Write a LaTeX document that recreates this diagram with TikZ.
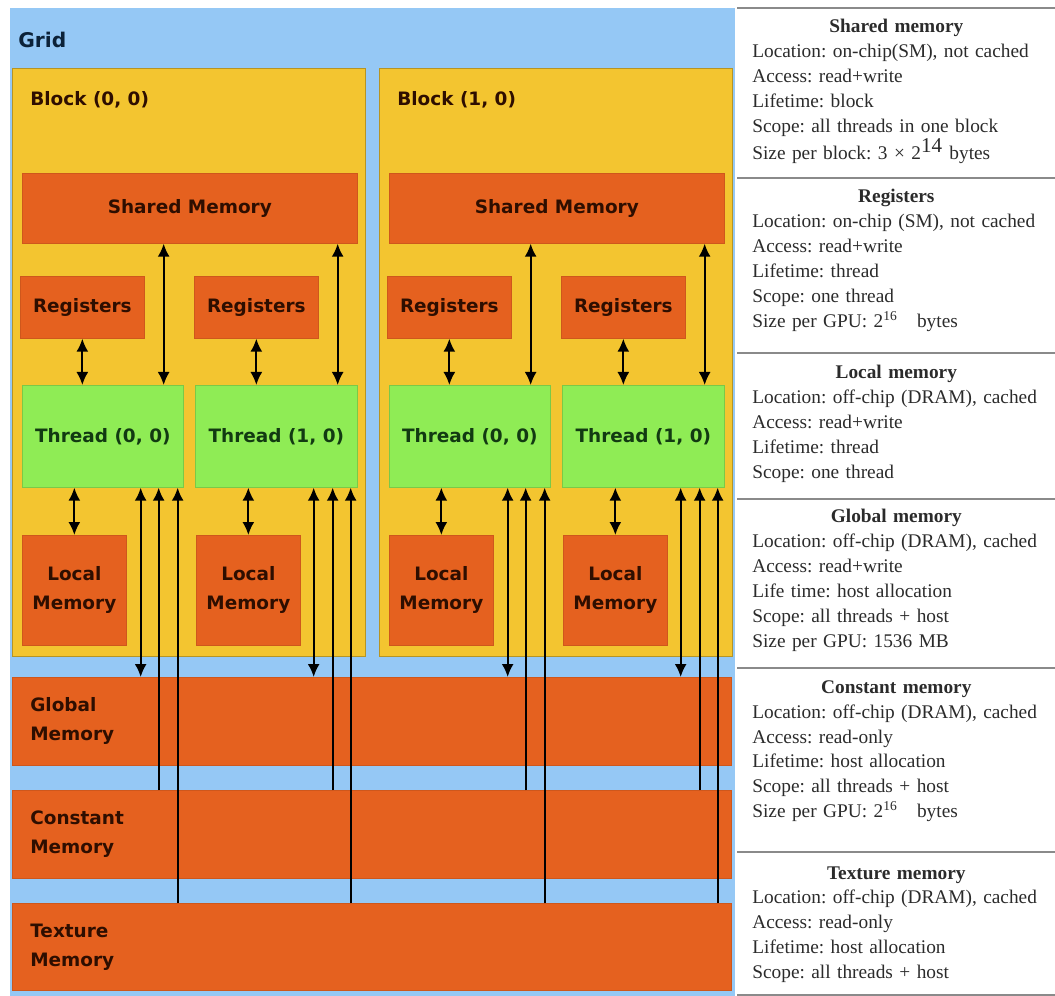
\documentclass[tikz,border=0pt]{standalone}
\usepackage{fontspec}
\setmainfont{Liberation Serif}
\setsansfont{DejaVu Sans}
\usetikzlibrary{arrows.meta,positioning,calc}
\frenchspacing
\definecolor{gridblue}{HTML}{95C8F5}
\definecolor{blockyellow}{HTML}{F3C530}
\definecolor{memorange}{HTML}{E5611F}
\definecolor{threadgreen}{HTML}{8FEC55}
\definecolor{memtext}{HTML}{2E0E00}
\definecolor{threadtext}{HTML}{123A12}
\definecolor{gridtext}{HTML}{0C2238}
\definecolor{infotext}{HTML}{2B2B2B}
\definecolor{rulegray}{HTML}{8A8A8A}
\tikzset{
  boxfont/.style={font=\sffamily\bfseries\fontsize{10.5}{16.5}\selectfont},
  memory/.style={boxfont, draw=memorange!90!black, fill=memorange, text=memtext, inner sep=0pt, anchor=north west, align=center},
  regbox/.style={memory, minimum width=2.48cm, minimum height=1.24cm},
  localbox/.style={memory, minimum width=2.08cm, minimum height=2.2cm},
  bigmem/.style={memory, text width=13.66cm, inner xsep=0.36cm, align=left, minimum height=1.76cm},
  thread/.style={boxfont, draw=threadgreen!85!black, fill=threadgreen, text=threadtext, inner sep=0pt, anchor=north west, minimum height=2.04cm},
  block/.style={draw=blockyellow!75!black, fill=blockyellow, inner sep=0pt, anchor=north west, minimum width=7.06cm, minimum height=11.76cm},
  blocklabel/.style={boxfont, text=memtext, anchor=west, inner sep=0pt},
  link/.style={draw=black, line width=1.1pt, {Latex[length=2.6mm,width=2.4mm]}-{Latex[length=2.6mm,width=2.4mm]}},
  feed/.style={draw=black, line width=1.1pt, -{Latex[length=2.6mm,width=2.4mm]}},
  info/.style={anchor=north west, text width=5.76cm, align=left, inner sep=0pt, text=infotext, font=\fontsize{11}{14.2}\selectfont},
  rule/.style={draw=rulegray, line width=0.6pt}
}
\newcommand{\infohead}[1]{\makebox[5.76cm]{\textbf{#1}}}

\begin{document}
\begin{tikzpicture}[x=0.02cm, y=-0.02cm]
  \useasboundingbox (0,0) rectangle (1055,996);

  % the grid
  \node[fill=gridblue, inner sep=0pt, anchor=north west, minimum width=14.5cm, minimum height=19.76cm] (grid) at (10,8) {};
  \node[boxfont, text=gridtext, anchor=west, inner sep=0pt, font=\sffamily\bfseries\fontsize{11.5}{14}\selectfont] (gridlbl) at (18,40) {Grid};

  % block (0, 0)
  \node[block] (blk0) at (12,68) {};
  \node[blocklabel] (blk0lbl) at (30,100) {Block (0, 0)};
  \node[memory, minimum width=6.7cm, minimum height=1.4cm] (sm0) at (22,173) {Shared Memory};
  \node[regbox] (reg00) at (20,276) {Registers};
  \node[regbox] (reg01) at (194,276) {Registers};
  \node[thread, minimum width=3.22cm] (thr00) at (22,385) {Thread (0, 0)};
  \node[thread, minimum width=3.24cm] (thr01) at (195,385) {Thread (1, 0)};
  \node[localbox] (loc00) at (22,535) {Local\\Memory};
  \node[localbox] (loc01) at (196,535) {Local\\Memory};

  % block (1, 0)
  \node[block] (blk1) at (379,68) {};
  \node[blocklabel] (blk1lbl) at (397,100) {Block (1, 0)};
  \node[memory, minimum width=6.7cm, minimum height=1.4cm] (sm1) at (389,173) {Shared Memory};
  \node[regbox] (reg10) at (387,276) {Registers};
  \node[regbox] (reg11) at (561,276) {Registers};
  \node[thread, minimum width=3.22cm] (thr10) at (389,385) {Thread (0, 0)};
  \node[thread, minimum width=3.24cm] (thr11) at (562,385) {Thread (1, 0)};
  \node[localbox] (loc10) at (389,535) {Local\\Memory};
  \node[localbox] (loc11) at (563,535) {Local\\Memory};

  % device memories
  \node[bigmem] (gmem) at (12,677) {Global\\Memory};
  \node[bigmem] (cmem) at (12,790) {Constant\\Memory};
  \node[bigmem, minimum height=1.74cm] (tmem) at (12,903) {Texture\\Memory};

  % where the arrows leave the threads
  \coordinate (thr00s) at ($(thr00.north east)+(-20,0)$);
  \coordinate (thr01s) at ($(thr01.north east)+(-20,0)$);
  \coordinate (thr10s) at ($(thr10.north east)+(-20,0)$);
  \coordinate (thr11s) at ($(thr11.north east)+(-20,0)$);
  \coordinate (thr00g) at ($(thr00.south east)+(-43,0)$);
  \coordinate (thr01g) at ($(thr01.south east)+(-44,0)$);
  \coordinate (thr10g) at ($(thr10.south east)+(-43,0)$);
  \coordinate (thr11g) at ($(thr11.south east)+(-44,0)$);
  \coordinate (thr00c) at ($(thr00.south east)+(-25,0)$);
  \coordinate (thr01c) at ($(thr01.south east)+(-25,0)$);
  \coordinate (thr10c) at ($(thr10.south east)+(-25,0)$);
  \coordinate (thr11c) at ($(thr11.south east)+(-25,0)$);
  \coordinate (thr00t) at ($(thr00.south east)+(-6,0)$);
  \coordinate (thr01t) at ($(thr01.south east)+(-7,0)$);
  \coordinate (thr10t) at ($(thr10.south east)+(-6,0)$);
  \coordinate (thr11t) at ($(thr11.south east)+(-7,0)$);

  \draw[link] (reg00) -- (reg00 |- thr00.north);
  \draw[link] (reg01) -- (reg01 |- thr01.north);
  \draw[link] (reg10) -- (reg10 |- thr10.north);
  \draw[link] (reg11) -- (reg11 |- thr11.north);
  \draw[link] (thr00s |- sm0.south) -- (thr00s);
  \draw[link] (thr01s |- sm0.south) -- (thr01s);
  \draw[link] (thr10s |- sm1.south) -- (thr10s);
  \draw[link] (thr11s |- sm1.south) -- (thr11s);
  \draw[link] (loc00 |- thr00.south) -- (loc00);
  \draw[link] (loc01 |- thr01.south) -- (loc01);
  \draw[link] (loc10 |- thr10.south) -- (loc10);
  \draw[link] (loc11 |- thr11.south) -- (loc11);
  \draw[link] (thr00g) -- (thr00g |- gmem.north);
  \draw[link] (thr01g) -- (thr01g |- gmem.north);
  \draw[link] (thr10g) -- (thr10g |- gmem.north);
  \draw[link] (thr11g) -- (thr11g |- gmem.north);
  \draw[feed] (thr00c |- cmem.north) -- (thr00c);
  \draw[feed] (thr01c |- cmem.north) -- (thr01c);
  \draw[feed] (thr10c |- cmem.north) -- (thr10c);
  \draw[feed] (thr11c |- cmem.north) -- (thr11c);
  \draw[feed] (thr00t |- tmem.north) -- (thr00t);
  \draw[feed] (thr01t |- tmem.north) -- (thr01t);
  \draw[feed] (thr10t |- tmem.north) -- (thr10t);
  \draw[feed] (thr11t |- tmem.north) -- (thr11t);

  % the table on the right
  \draw[rule] (737,8) -- (1055,8);
  \draw[rule] (737,178) -- (1055,178);
  \draw[rule] (737,353) -- (1055,353);
  \draw[rule] (737,499) -- (1055,499);
  \draw[rule] (737,668) -- (1055,668);
  \draw[rule] (737,852) -- (1055,852);
  \draw[rule] (737,995) -- (1055,995);

  \node[info] (shinfo) at (752,19) {\infohead{Shared memory}\\
    Location: on-chip(SM), not cached\\ Access: read+write\\ Lifetime: block\\
    Scope: all threads in one block\\ Size per block: 3 × 2\textsuperscript{\large 14} bytes};
  \node[info] (reginfo) at (752,189) {\infohead{Registers}\\
    Location: on-chip (SM), not cached\\ Access: read+write\\ Lifetime: thread\\
    Scope: one thread\\ Size per GPU: 2\textsuperscript{16}\ \ \ bytes};
  \node[info] (locinfo) at (752,365) {\infohead{Local memory}\\
    Location: off-chip (DRAM), cached\\ Access: read+write\\ Lifetime: thread\\
    Scope: one thread};
  \node[info] (glbinfo) at (752,509) {\infohead{Global memory}\\
    Location: off-chip (DRAM), cached\\ Access: read+write\\ Life time: host allocation\\
    Scope: all threads + host\\ Size per GPU: 1536 MB};
  \node[info] (coninfo) at (752,680) {\infohead{Constant memory}\\
    Location: off-chip (DRAM), cached\\ Access: read-only\\ Lifetime: host allocation\\
    Scope: all threads + host\\ Size per GPU: 2\textsuperscript{16}\ \ \ bytes};
  \node[info] (texinfo) at (752,866) {\infohead{Texture memory}\\
    Location: off-chip (DRAM), cached\\ Access: read-only\\ Lifetime: host allocation\\
    Scope: all threads + host};
\end{tikzpicture}
\end{document}
